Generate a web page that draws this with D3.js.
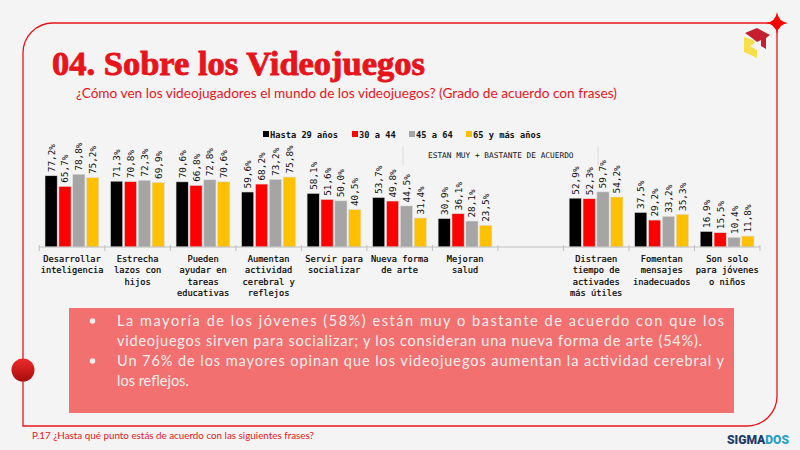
<!DOCTYPE html>
<html>
<head>
<meta charset="utf-8">
<script src="https://cdn.jsdelivr.net/npm/d3@7"></script>
<style>
  body { margin: 0; background: #f4f4f4; }
  svg { display: block; }
</style>
</head>
<body>
<svg id="chart"></svg>
<script>
// data
const categories = [
  ["Desarrollar", "inteligencia"],
  ["Estrecha", "lazos con", "hijos"],
  ["Pueden", "ayudar en", "tareas", "educativas"],
  ["Aumentan", "actividad", "cerebral y", "reflejos"],
  ["Servir para", "socializar"],
  ["Nueva forma", "de arte"],
  ["Mejoran", "salud"],
  [],
  ["Distraen", "tiempo de", "activades", "más útiles"],
  ["Fomentan", "mensajes", "inadecuados"],
  ["Son solo", "para jóvenes", "o niños"]
];
const seriesNames = ["Hasta 29 años", "30 a 44", "45 a 64", "65 y más años"];
const seriesColors = ["#000000", "#ff0000", "#a5a5a5", "#ffc000"];
const hasta29 = [77.2, 71.3, 70.6, 59.6, 58.1, 53.7, 30.9, null, 52.9, 37.5, 16.9];
const de30a44 = [65.7, 70.8, 66.8, 68.2, 51.6, 49.8, 36.1, null, 52.3, 29.2, 15.5];
const de45a64 = [78.8, 72.3, 72.8, 73.2, 50.0, 44.5, 28.1, null, 59.7, 33.2, 10.4];
const mas65   = [75.2, 69.9, 70.6, 75.8, 40.5, 31.4, 23.5, null, 54.2, 35.3, 11.8];
const seriesValues = [hasta29, de30a44, de45a64, mas65];

const bulletLines = [
  ["La mayoría de los jóvenes (58%) están muy o bastante de acuerdo con que los", true, true],
  ["videojuegos sirven para socializar; y los consideran una nueva forma de arte (54%).", false, true],
  ["Un 76% de los mayores opinan que los videojuegos aumentan la actividad cerebral y", true, true],
  ["los reflejos.", false, false]
];

const W = 800, H = 450;
const RED = "#e8141c";
const mono = "'DejaVu Sans Mono', 'Liberation Mono', monospace";

const svg = d3.select("#chart").attr("width", W).attr("height", H);
svg.append("rect").attr("width", W).attr("height", H).attr("fill", "#f4f4f4");

// frame
svg.append("path")
  .attr("d", "M23,426 L23,53 A30,30 0 0 1 53,23 L777,23 L777,396 A30,30 0 0 1 747,426 Z")
  .attr("fill", "none").attr("stroke", RED).attr("stroke-width", 1.3);

// star on the corner
svg.append("path")
  .attr("d", "M777,12 Q778.3,21.7 788,23 Q778.3,24.3 777,34 Q775.7,24.3 766,23 Q775.7,21.7 777,12 Z")
  .attr("fill", "#ff0000");

// left red dot
const defs = svg.append("defs");
const grad = defs.append("linearGradient").attr("id", "dot").attr("x1", 0).attr("y1", 0).attr("x2", 0).attr("y2", 1);
grad.append("stop").attr("offset", "0%").attr("stop-color", "#ee2b2b");
grad.append("stop").attr("offset", "100%").attr("stop-color", "#a80c0c");
svg.append("circle").attr("cx", 23).attr("cy", 370).attr("r", 11.5).attr("fill", "url(#dot)");

// small logo
svg.append("path")
  .attr("d", "M745,33 L757,28 L770,35 L766,38 L766,49 L761,46 L761,40 L757,42 L752,38 Z")
  .attr("fill", "#c4202f");
svg.append("path")
  .attr("d", "M744,37 L753,40 L755,43 L750,46 L757,50 L757,58 L744,52 Z")
  .attr("fill", "#f6df4a");

// title
svg.append("text")
  .attr("x", 52).attr("y", 75)
  .attr("textLength", 373).attr("lengthAdjust", "spacingAndGlyphs")
  .style("font-family", "'Liberation Serif', 'DejaVu Serif', serif")
  .style("font-weight", "bold").style("font-size", "34px")
  .attr("fill", RED).attr("stroke", RED).attr("stroke-width", 0.9)
  .text("04. Sobre los Videojuegos");

svg.append("text")
  .attr("x", 76).attr("y", 98)
  .attr("textLength", 541).attr("lengthAdjust", "spacingAndGlyphs")
  .style("font-family", "Lato, 'Noto Sans', sans-serif").style("font-size", "12.5px")
  .attr("fill", RED)
  .text("¿Cómo ven los videojugadores el mundo de los videojuegos? (Grado de acuerdo con frases)");

// legend
const legendX = [263, 352, 409, 466];
const legend = svg.append("g");
seriesNames.forEach((name, i) => {
  legend.append("rect").attr("x", legendX[i]).attr("y", 131).attr("width", 6).attr("height", 6)
    .attr("fill", seriesColors[i]);
  legend.append("text").attr("x", legendX[i] + 7).attr("y", 137.5)
    .style("font-family", mono).style("font-weight", "bold").style("font-size", "8.7px")
    .attr("fill", "#111").text(name);
});

// header cell
svg.append("line").attr("x1", 403).attr("x2", 403).attr("y1", 146).attr("y2", 165)
  .attr("stroke", "#d6d6d6").attr("stroke-width", 0.8);
svg.append("line").attr("x1", 598).attr("x2", 598).attr("y1", 146).attr("y2", 165)
  .attr("stroke", "#d6d6d6").attr("stroke-width", 0.8);
svg.append("text").attr("x", 428).attr("y", 157.5)
  .style("font-family", mono).style("font-size", "7.8px").attr("fill", "#111")
  .text("ESTAN MUY + BASTANTE DE ACUERDO");

// scales
const x0 = d3.scaleBand().domain(d3.range(categories.length)).range([39.3, 760]);
const x1 = d3.scaleBand().domain(d3.range(seriesNames.length)).range([5.7, 59.5]).paddingInner(0.12);
const y = d3.scaleLinear().domain([0, 100]).range([247, 154.7]);

const chart = svg.append("g");
const fmt = v => d3.format(".1f")(v).replace(".", ",") + "%";

categories.forEach((cat, ci) => {
  const g = chart.append("g").attr("transform", `translate(${x0(ci)},0)`);
  seriesValues.forEach((vals, si) => {
    const v = vals[ci];
    if (v == null) return;
    const bx = x1(si), bw = x1.bandwidth();
    g.append("rect")
      .attr("x", bx).attr("y", y(v))
      .attr("width", bw).attr("height", y(0) - y(v))
      .attr("fill", seriesColors[si])
      .attr("stroke", "#dcdcdc").attr("stroke-width", 0.6);
    g.append("text")
      .attr("transform", `translate(${bx + bw / 2},${y(v) - 3.5}) rotate(-90)`)
      .attr("dominant-baseline", "central")
      .style("font-family", mono).style("font-size", "9.4px")
      .attr("fill", "#111")
      .text(fmt(v));
  });
  g.selectAll("text.cat")
    .data(cat).enter().append("text")
    .attr("class", "cat")
    .attr("x", x0.bandwidth() / 2)
    .attr("y", (d, i) => 262 + i * 11.3)
    .attr("text-anchor", "middle")
    .style("font-family", mono).style("font-size", "8.7px")
    .attr("fill", "#000").attr("stroke", "#000").attr("stroke-width", 0.2)
    .text(d => d);
});

// axis line and ticks
svg.append("line").attr("x1", 39.3).attr("x2", 760).attr("y1", y(0)).attr("y2", y(0))
  .attr("stroke", "#bfbfbf").attr("stroke-width", 1);
svg.selectAll("line.tick")
  .data(d3.range(categories.length + 1)).enter().append("line")
  .attr("class", "tick")
  .attr("x1", d => x0.range()[0] + d * x0.step()).attr("x2", d => x0.range()[0] + d * x0.step())
  .attr("y1", y(0) - 2).attr("y2", y(0) + 4)
  .attr("stroke", "#bfbfbf").attr("stroke-width", 1);

// comment box
svg.append("rect").attr("x", 69).attr("y", 308).attr("width", 665).attr("height", 105)
  .attr("fill", "#f27070");
bulletLines.forEach(([txt, justify, bullet], i) => {
  const ly = 326 + i * 20;
  if (bullet && (i === 0 || i === 2)) {
    svg.append("circle").attr("cx", 92.5).attr("cy", ly - 5).attr("r", 2.8).attr("fill", "#fbeeee");
  }
  const t = svg.append("text")
    .attr("x", 117).attr("y", ly)
    .style("font-family", "Lato, 'Noto Sans', sans-serif").style("font-size", "14.5px")
    .attr("fill", "#fbeeee")
    .text(txt);
  if (justify) t.attr("textLength", 607).attr("lengthAdjust", "spacing");
  else if (i === 1) t.attr("textLength", 585).attr("lengthAdjust", "spacing");
});

// footer
svg.append("text").attr("x", 32).attr("y", 439)
  .attr("textLength", 282).attr("lengthAdjust", "spacingAndGlyphs")
  .style("font-family", "Lato, 'Noto Sans', sans-serif").style("font-size", "9px")
  .attr("fill", RED)
  .text("P.17 ¿Hasta qué punto estás de acuerdo con las siguientes frases?");

const brand = svg.append("text").attr("x", 727).attr("y", 444)
  .attr("textLength", 62).attr("lengthAdjust", "spacingAndGlyphs")
  .style("font-family", "Roboto, 'Noto Sans', sans-serif").style("font-weight", "900").style("font-size", "12px");
brand.append("tspan").attr("fill", "#1d3b6c").text("SIGMA");
brand.append("tspan").attr("fill", "#2a9fc6").text("DOS");
</script>
</body>
</html>
